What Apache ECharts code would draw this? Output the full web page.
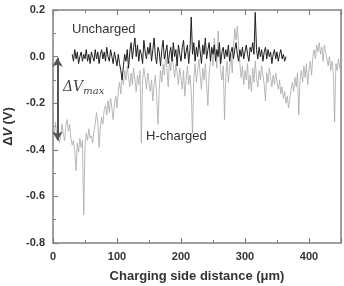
<!DOCTYPE html>
<html>
<head>
<meta charset="utf-8">
<script src="https://cdn.jsdelivr.net/npm/echarts@6/dist/echarts.min.js"></script>
<style>
  html, body { margin: 0; padding: 0; background: #fff; }
  #chart { width: 344px; height: 286px; }
</style>
</head>
<body>
<div id="chart"></div>
<script>
// sampling grid of the two profiles (um)
const hStart = 0, hStep = 2;
const uStart = 30, uStep = 2;

// H-charged profile, dV (V), every 2 um from 0 to 450
const hCharged = [
  -0.30, -0.33, -0.28, -0.35, -0.31, -0.37, -0.34, -0.29, -0.33, -0.36,
  -0.30, -0.27, -0.32, -0.29, -0.35, -0.38, -0.36, -0.40, -0.49, -0.37,
  -0.41, -0.35, -0.39, -0.36, -0.68, -0.38, -0.33, -0.36, -0.31, -0.35,
  -0.34, -0.37, -0.32, -0.29, -0.24, -0.28, -0.39, -0.30, -0.26, -0.29,
  -0.23, -0.21, -0.25, -0.19, -0.24, -0.18, -0.22, -0.27, -0.20, -0.17,
  -0.22, -0.15, -0.11, -0.16, -0.08, -0.12, -0.06, -0.10, -0.04, -0.09,
  -0.13, -0.07, -0.12, -0.05, -0.10, -0.15, -0.08, -0.12, -0.06, -0.37,
  -0.10, -0.05, -0.09, -0.14, -0.07, -0.11, -0.15, -0.10, -0.19, -0.12,
  -0.08, -0.17, -0.29, -0.14, -0.06, -0.11, -0.03, -0.08, 0.01, -0.05,
  -0.13, -0.02, -0.06, 0.02, -0.04, -0.09, -0.03, -0.07, -0.12, -0.05,
  -0.09, -0.14, -0.06, -0.17, -0.10, -0.04, -0.12, -0.08, -0.15, -0.33,
  -0.09, -0.03, -0.11, -0.06, -0.01, -0.08, -0.14, -0.05, -0.10, -0.03,
  -0.12, -0.21, -0.07, -0.02, 0.03, -0.04, 0.08, 0.02, -0.05, 0.11,
  0.01, -0.06, -0.10, -0.04, -0.27, -0.08, -0.02, -0.11, -0.05, 0.01,
  -0.07, 0.04, 0.12, 0.07, 0.13, 0.05, -0.03, -0.09, -0.04, -0.12,
  -0.06, -0.10, -0.03, -0.14, -0.08, -0.15, -0.05, -0.11, -0.02, -0.09,
  -0.13, -0.06, -0.10, -0.04, -0.08, -0.12, -0.19, -0.07, -0.11, -0.05,
  -0.09, -0.13, -0.08, -0.12, -0.07, -0.11, -0.14, -0.10, -0.16, -0.13,
  -0.18, -0.15, -0.20, -0.17, -0.22, -0.18, -0.14, -0.11, -0.15, -0.09,
  -0.13, -0.07, -0.25, -0.10, -0.06, -0.11, -0.04, -0.09, -0.03, -0.12,
  -0.06, -0.02, -0.08, 0.00, 0.03, -0.01, 0.05, 0.02, 0.06, 0.01,
  0.04, -0.02, 0.05, 0.02, -0.01, -0.04, 0.00, -0.06, -0.02, -0.07,
  -0.28, -0.03, -0.06, -0.01, -0.05, -0.03
];

// uncharged profile, dV (V), every 2 um from 30 to 364
const uncharged = [
  0.01, -0.02, 0.03, -0.01, 0.02, -0.03, 0.00, 0.02, -0.02, 0.01,
  -0.01, 0.03, -0.02, 0.01, -0.03, 0.02, 0.00, -0.02, 0.03, -0.01,
  0.02, -0.03, 0.01, 0.03, -0.01, 0.02, -0.02, 0.04, 0.00, -0.02,
  0.03, 0.00, -0.03, 0.02, -0.01, -0.04, 0.01, -0.03, -0.06, -0.10,
  -0.04, 0.01, -0.02, 0.03, -0.05, 0.02, 0.06, -0.01, 0.04, 0.08,
  0.00, 0.05, -0.02, 0.03, 0.01, -0.03, 0.07, 0.02, -0.01, 0.04,
  0.01, 0.06, -0.02, 0.03, 0.08, 0.00, -0.03, 0.04, 0.02, -0.04,
  0.03, 0.07, -0.01, 0.02, 0.05, -0.03, 0.01, 0.04, -0.02, 0.06,
  0.00, 0.03, -0.04, 0.05, 0.01, -0.02, 0.04, 0.07, -0.01, 0.02,
  0.05, -0.03, 0.03, 0.17, 0.01, 0.06, -0.02, 0.04, 0.00, 0.07,
  0.02, -0.03, 0.05, 0.01, 0.08, -0.01, 0.03, 0.06, -0.02, 0.04,
  0.01, 0.05, -0.02, 0.03, 0.00, 0.06, -0.03, 0.02, 0.04, -0.01,
  0.03, 0.00, 0.05, -0.02, 0.02, 0.04, -0.01, 0.03, 0.06, 0.01,
  -0.02, 0.03, 0.00, 0.04, -0.01, 0.02, 0.05, 0.01, -0.02, 0.04,
  0.02, 0.06, 0.01, 0.19, 0.03, -0.01, 0.04, 0.00, 0.03, -0.02,
  0.02, 0.04, -0.01, 0.03, 0.00, 0.02, -0.03, 0.01, 0.03, -0.01,
  0.02, -0.02, 0.01, 0.03, -0.01, 0.01, -0.02, 0.00
];

// axis ranges
const xMin = 0, xMax = 450, xInterval = 100;
const yMin = -0.8, yMax = 0.2, yInterval = 0.2;

// the double arrow for dV_max: x position and the two ends
const arrowX = 7;
const arrowEnds = [-0.005, -0.36];

const toPairs = (x0, dx, ys) => ys.map((v, i) => [x0 + i * dx, v]);

const axisGray = '#808080';
const font = '"Liberation Sans", Arial, sans-serif';

const chart = echarts.init(document.getElementById('chart'));

const tickLabel = { color: '#333', fontSize: 11, fontWeight: 'bold', fontFamily: font };

chart.setOption({
  animation: false,
  grid: { left: 53, right: 3, top: 10, bottom: 43, outerBoundsMode: 'none' },
  xAxis: [{
    type: 'value',
    min: xMin, max: xMax, interval: xInterval,
    name: 'Charging side distance (μm)',
    nameLocation: 'middle',
    nameGap: 27,
    nameTextStyle: { color: '#333', fontSize: 13, fontWeight: 'bold', fontFamily: font },
    axisLine: { onZero: false, lineStyle: { color: axisGray, width: 1.5 } },
    axisTick: { inside: true, length: 5, lineStyle: { color: axisGray, width: 1.2 } },
    minorTick: { show: true, splitNumber: 2, length: 3, lineStyle: { color: axisGray, width: 1 } },
    axisLabel: { ...tickLabel, margin: 8, showMaxLabel: false },
    splitLine: { show: false }
  }, {
    type: 'value', position: 'top',
    min: xMin, max: xMax, interval: xInterval,
    axisLine: { onZero: false, lineStyle: { color: axisGray, width: 1.5 } },
    axisTick: { inside: true, length: 5, lineStyle: { color: axisGray, width: 1.2 } },
    minorTick: { show: true, splitNumber: 2, length: 3, lineStyle: { color: axisGray, width: 1 } },
    axisLabel: { show: false },
    splitLine: { show: false }
  }],
  yAxis: [{
    type: 'value',
    min: yMin, max: yMax, interval: yInterval,
    name: '{d|Δ}{v|V} {d|(V)}',
    nameLocation: 'middle',
    nameGap: 28,
    nameRotate: 90,
    nameTextStyle: {
      rich: {
        d: { color: '#333', fontSize: 13, fontWeight: 'bold', fontFamily: font },
        v: { color: '#333', fontSize: 13, fontWeight: 'bold', fontStyle: 'italic', fontFamily: font }
      }
    },
    axisLine: { show: true, onZero: false, lineStyle: { color: axisGray, width: 1.5 } },
    axisTick: { inside: true, length: 5, lineStyle: { color: axisGray, width: 1.2 } },
    minorTick: { show: true, splitNumber: 2, length: 3, lineStyle: { color: axisGray, width: 1 } },
    axisLabel: { ...tickLabel, margin: 8, formatter: v => v.toFixed(1) },
    splitLine: { show: false }
  }, {
    type: 'value', position: 'right',
    min: yMin, max: yMax, interval: yInterval,
    axisLine: { show: true, onZero: false, lineStyle: { color: axisGray, width: 1.5 } },
    axisTick: { show: false },
    axisLabel: { show: false },
    splitLine: { show: false }
  }],
  series: [{
    name: 'H-charged',
    type: 'line',
    data: toPairs(hStart, hStep, hCharged),
    showSymbol: false,
    lineStyle: { color: '#a8a8a8', width: 0.8 },
    markLine: {
      silent: true,
      symbol: ['arrow', 'arrow'],
      symbolSize: [8, 9],
      label: { show: false },
      lineStyle: { color: '#555', width: 2, type: 'solid' },
      data: [[{ coord: [arrowX, arrowEnds[0]] }, { coord: [arrowX, arrowEnds[1]] }]]
    }
  }, {
    name: 'Uncharged',
    type: 'line',
    data: toPairs(uStart, uStep, uncharged),
    showSymbol: false,
    lineStyle: { color: '#1e1e1e', width: 1 }
  }],
  graphic: [{
    type: 'text', left: 72, top: 23,
    style: { text: 'Uncharged', fill: '#333', font: '13px ' + font }
  }, {
    type: 'text', left: 146, top: 130,
    style: { text: 'H-charged', fill: '#333', font: '13px ' + font }
  }, {
    type: 'text', left: 63, top: 80,
    style: {
      text: '{a|ΔV}{b|max}',
      rich: {
        a: { fill: '#444', fontSize: 14, fontStyle: 'italic', fontFamily: '"DejaVu Serif", "Liberation Serif", serif' },
        b: { fill: '#444', fontSize: 10, fontStyle: 'italic', fontFamily: '"DejaVu Serif", "Liberation Serif", serif', padding: [8, 0, 0, 0] }
      }
    }
  }]
});
</script>
</body>
</html>
